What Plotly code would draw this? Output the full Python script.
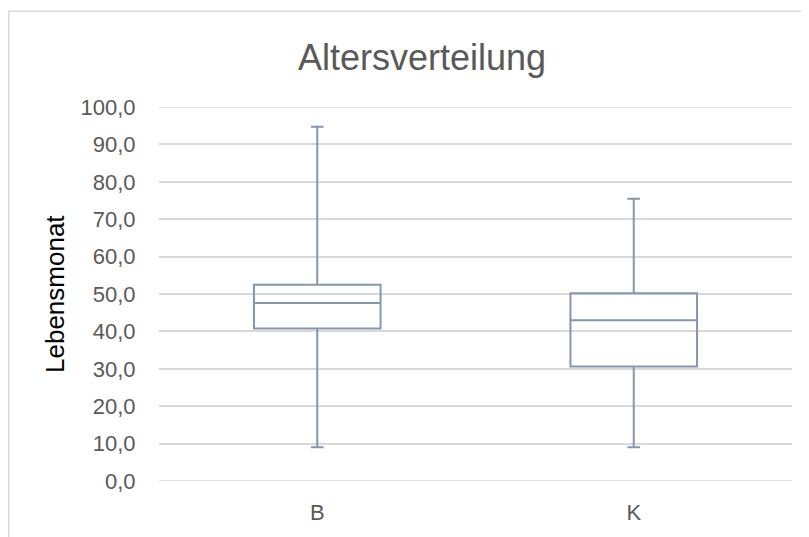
import plotly.graph_objects as go

categories = ["B", "K"]
lower_whisker = [9.0, 9.0]
q1_values = [40.8, 30.6]
median_values = [47.6, 43.0]
q3_values = [52.5, 50.2]
upper_whisker = [94.7, 75.5]

y_ticks = [0, 10, 20, 30, 40, 50, 60, 70, 80, 90, 100]

# page body has an 8px margin, so the figure is offset by (8, 8)
OFF = 8
W, H = 809 - OFF, 537 - OFF
L, R, T, B = 159 - OFF, 17, 107 - OFF, 53
pw, ph = W - L - R, H - T - B

fig = go.Figure()
fig.add_trace(go.Box(
    x=categories,
    q1=q1_values,
    median=median_values,
    q3=q3_values,
    lowerfence=lower_whisker,
    upperfence=upper_whisker,
    boxpoints=False,
    width=0.4,
    whiskerwidth=0.1,
    fillcolor="rgba(255,255,255,0)",
    line=dict(color="#8497B0", width=2),
    showlegend=False,
    hoverinfo="skip",
))

font_family = "Liberation Sans, Arial, sans-serif"
grid_color = "#D9D9D9"

shapes = [dict(type="rect", xref="paper", yref="paper",
               x0=(0.75 - L) / pw, x1=(W + 10 - L) / pw,
               y0=-(H + 10 - (T + ph)) / ph, y1=(T + ph - (10.5 - OFF)) / ph,
               line=dict(color=grid_color, width=1.5), fillcolor="rgba(0,0,0,0)", layer="below")]
# gridlines at the range edges (Plotly drops those itself)
for v in (y_ticks[0], y_ticks[-1]):
    shapes.append(dict(type="line", xref="paper", yref="y", x0=0, x1=1, y0=v, y1=v,
                       line=dict(color=grid_color, width=1.5), layer="below"))

fig.update_layout(
    width=W, height=H,
    margin=dict(l=L, r=R, t=T, b=B),
    paper_bgcolor="white",
    plot_bgcolor="white",
    separators=",.",
    font=dict(family=font_family, color="#595959", size=22),
    title=dict(text="Altersverteilung", x=(422 - OFF) / W, xref="container", xanchor="center",
               y=1 - (57 - OFF) / H, yref="container", yanchor="middle",
               font=dict(size=36, color="#595959", family=font_family)),
    xaxis=dict(range=[-0.5, 1.5], showgrid=False, zeroline=False, showline=False,
               ticks="outside", ticklen=12, tickcolor="rgba(0,0,0,0)",
               tickfont=dict(size=22, color="#595959")),
    yaxis=dict(range=[0, 100], tickvals=y_ticks, tickformat=".1f",
               showgrid=True, gridcolor=grid_color, gridwidth=1.5,
               zeroline=False, showline=False,
               ticks="outside", ticklen=18, tickcolor="rgba(0,0,0,0)",
               tickfont=dict(size=22, color="#595959")),
    annotations=[dict(text="Lebensmonat", textangle=-90, xref="paper", yref="paper",
                      x=(55 - OFF - L) / pw, y=0.5, xanchor="center", yanchor="middle",
                      showarrow=False, font=dict(size=26, color="#000000", family=font_family))],
    shapes=shapes,
)

fig.write_html("out.html")
